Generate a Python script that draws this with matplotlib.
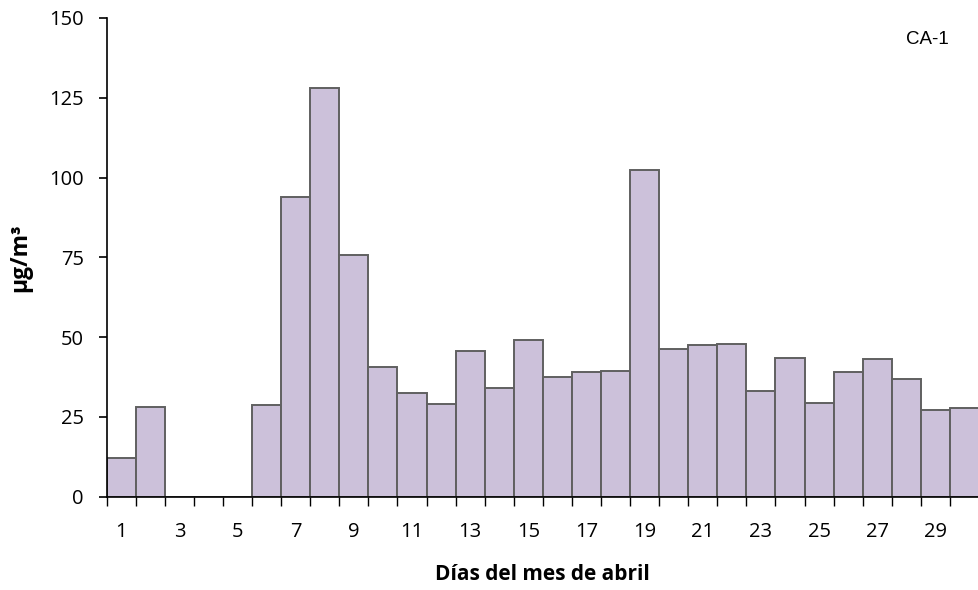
import numpy as np
import matplotlib
matplotlib.use("Agg")
import matplotlib.pyplot as plt
from matplotlib.ticker import FixedLocator, NullFormatter

days = list(range(1, 31))
values = [12, 28.2, 0, 0, 0, 28.8, 94, 128, 75.8, 40.7, 32.4, 29.2, 45.8, 34.2, 49.2,
          37.6, 39.2, 39.5, 102.3, 46.2, 47.6, 47.9, 33, 43.5, 29.5, 39.2, 43.2, 36.8,
          27.2, 27.8]
tick_labels = [str(d) for d in days if d % 2 == 1]
y_ticks = [0, 25, 50, 75, 100, 125, 150]

plt.rcParams['font.family'] = ['Open Sans', 'DejaVu Sans']

fig = plt.figure(figsize=(9.79, 5.9), dpi=100)
ax = fig.add_axes([0.109, 0.158, 0.891, 0.8115])

ax.bar(days, values, width=1.0, color='#CCC1DA', edgecolor='#606060', linewidth=1.4)

ax.set_xlim(0.5, 30.5)
ax.set_ylim(0, 150)
ax.set_yticks(y_ticks)
ax.tick_params(axis='y', labelsize=14.5, length=5.5, width=1.2, direction='out', pad=11)

# labels centred on odd days, tick marks on the bar edges
odd_days = [d for d in days if d % 2 == 1]
ax.set_xticks(odd_days)
ax.set_xticklabels(tick_labels)
ax.tick_params(axis='x', which='major', length=0, labelsize=14.5, pad=18)
ax.xaxis.set_minor_locator(FixedLocator(np.arange(0.5, 31, 1.0)))
ax.xaxis.set_minor_formatter(NullFormatter())
ax.tick_params(axis='x', which='minor', length=6.5, width=1.0, direction='out')

for side in ['top', 'right']:
    ax.spines[side].set_visible(False)
ax.spines['left'].set_linewidth(1.2)
ax.spines['bottom'].set_linewidth(1.2)

ax.set_xlabel('Días del mes de abril', fontsize=15, fontweight='bold', labelpad=16)
ax.set_ylabel('µg/m³', fontsize=16.5, fontweight='bold', labelpad=12)

ax.text(0.965, 0.955, 'CA-1', transform=ax.transAxes, ha='right', va='center',
        fontsize=13.5, family=['Liberation Sans', 'DejaVu Sans'])

fig.savefig('out.png', dpi=100)
